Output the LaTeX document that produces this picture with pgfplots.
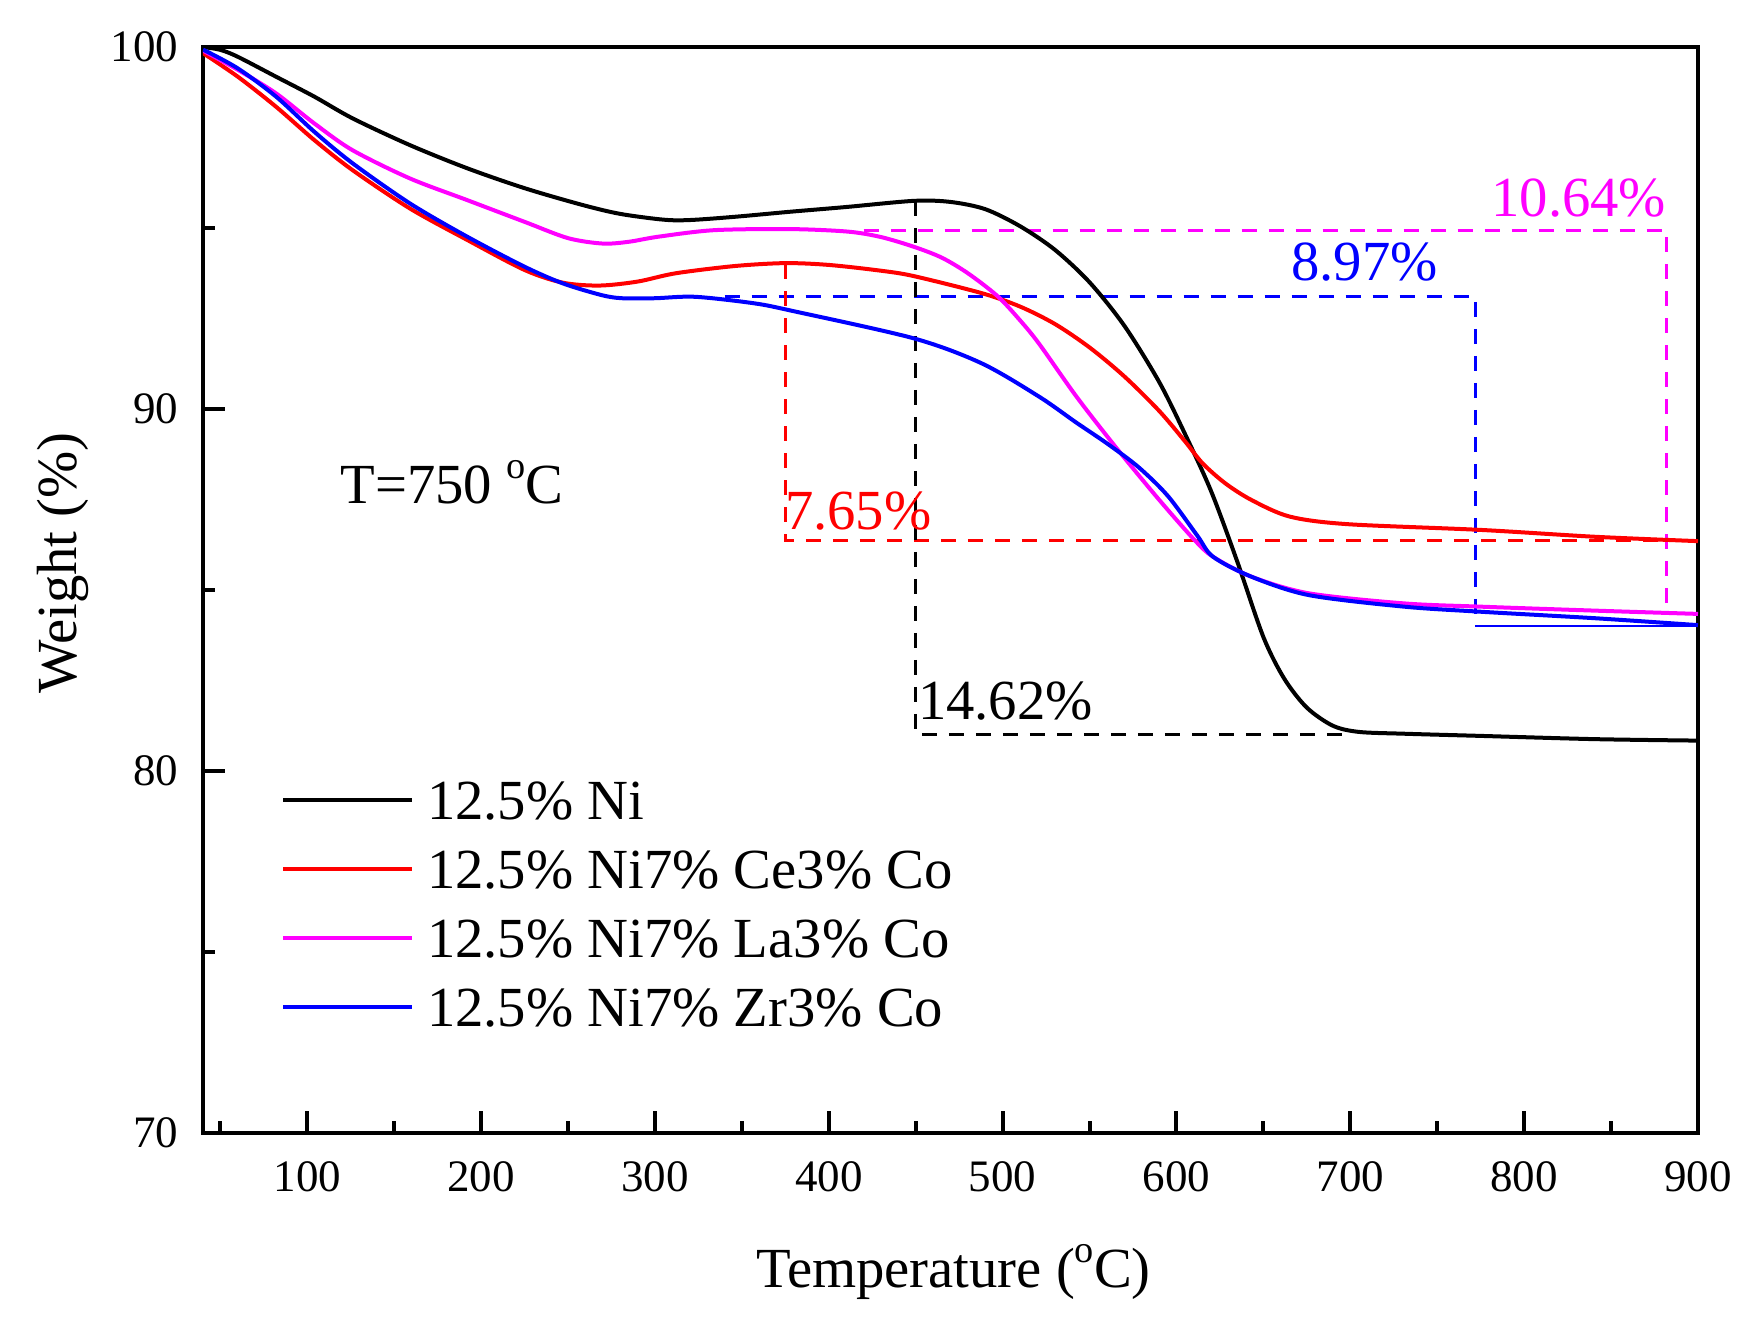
\documentclass[border=0pt]{standalone}
\usepackage{fontspec}
\setmainfont{Liberation Serif}
\usepackage{pgfplots}
\pgfplotsset{compat=1.18}

\definecolor{cmag}{RGB}{255,0,255}
\definecolor{cred}{RGB}{255,0,0}
\definecolor{cblue}{RGB}{0,0,255}

\newcommand{\lab}{\fontsize{17}{20}\selectfont}
\newcommand{\tck}{\fontsize{13.5}{16}\selectfont}
\newcommand{\degsup}{\raisebox{7.5pt}{\fontsize{11.5}{12}\selectfont o}}

\begin{document}
\begin{tikzpicture}
\begin{axis}[
  name=ax,
  scale only axis, width=448.5pt, height=325.8pt,
  xmin=40, xmax=900, ymin=70, ymax=100,
  xtick={100,200,...,900}, ytick={70,80,90,100},
  minor xtick={50,150,...,850}, minor ytick={75,85,95},
  tick align=inside, xtick pos=left, ytick pos=left,
  major tick length=6.5pt, minor tick length=3.5pt,
  major tick style={black, line width=1.2pt},
  minor tick style={black, line width=1.2pt},
  axis line style={line width=1.3pt},
  /pgf/number format/assume math mode=true,
  ticklabel style={font=\tck, inner sep=0pt},
  xticklabel style={anchor=base, yshift=-17.6pt},
  yticklabel style={anchor=east, xshift=-7.2pt},
  xlabel={Temperature (\degsup C)},
  ylabel={Weight (\%)},
  label style={font=\lab, inner sep=0pt},
  xlabel style={at={(axis description cs:0.502,-0.1418)}, anchor=base},
  ylabel style={at={(axis description cs:-0.0843,0.5249)}, anchor=base},
  legend style={draw=none, fill=none, at={(0.0522,0.3349)}, anchor=north west,
    inner sep=0pt, outer sep=0pt, font=\lab, row sep=2.3pt, column sep=3.9pt,
    nodes={inner sep=0pt, text height=15pt, text depth=3.4pt}},
  legend cell align=left,
  legend image code/.code={\draw[#1] (0pt,0pt) -- (38.7pt,0pt);},
]
% annotation boxes
\addplot[cmag, line width=1pt, dash pattern=on 4.5pt off 3.6pt, forget plot]
  coordinates {(420,94.94) (882,94.94) (882,84.59)};
\addplot[cblue, line width=1pt, dash pattern=on 4.5pt off 3.6pt, forget plot]
  coordinates {(340,93.10) (772,93.10) (772,84.05)};
\addplot[cblue, line width=0.6pt, forget plot]
  coordinates {(772,84.0) (900,84.0)};
\addplot[cred, line width=1pt, dash pattern=on 4.5pt off 3.6pt, forget plot]
  coordinates {(375,94.0) (375,86.36) (900,86.36)};
\addplot[black, line width=1pt, dash pattern=on 4.5pt off 3.6pt, forget plot]
  coordinates {(450,95.75) (450,81.0) (698,81.0)};

% curves
\addplot[black, line width=1.2pt, smooth] coordinates {
(40,100.0) (50,99.92) (60,99.73) (82,99.18) (104,98.63) (126,98.03) (159,97.29)
(192,96.65) (225,96.10) (258,95.64) (280,95.39) (305,95.23) (320,95.22) (346,95.31)
(378,95.45) (410,95.58) (449,95.75) (470,95.72) (490,95.52) (510,95.05) (530,94.40)
(550,93.50) (570,92.30) (590,90.75) (605,89.30) (620,87.72) (635,85.78) (650,83.70)
(662,82.55) (675,81.75) (690,81.25) (705,81.08) (731,81.03) (775,80.97) (841,80.88)
(900,80.84)};
\addplot[cred, line width=1.2pt, smooth] coordinates {
(40,99.83) (60,99.18) (82,98.35) (104,97.43) (126,96.60) (159,95.54) (192,94.67)
(225,93.84) (247,93.49) (268,93.41) (290,93.52) (312,93.75) (346,93.95) (375,94.03)
(400,93.98) (430,93.82) (449,93.67) (488,93.20) (510,92.83) (530,92.35) (550,91.70)
(570,90.90) (590,89.95) (605,89.10) (615,88.50) (628,87.95) (643,87.49) (665,87.03)
(698,86.82) (775,86.66) (841,86.47) (900,86.35)};
\addplot[cmag, line width=1.2pt, smooth] coordinates {
(40,99.90) (60,99.37) (82,98.72) (104,97.89) (126,97.15) (159,96.37) (192,95.77)
(225,95.17) (250,94.72) (270,94.57) (285,94.62) (302,94.76) (334,94.94) (378,94.97)
(411,94.90) (430,94.75) (449,94.48) (465,94.18) (480,93.75) (497,93.12) (510,92.45)
(521,91.80) (542.5,90.34) (565,88.95) (589,87.55) (610,86.40) (621,85.92) (643,85.37)
(676,84.91) (731,84.63) (775,84.54) (841,84.43) (900,84.34)};
\addplot[cblue, line width=1.2pt, smooth] coordinates {
(40,99.93) (60,99.41) (82,98.63) (104,97.66) (126,96.79) (159,95.68) (192,94.76)
(225,93.93) (247,93.47) (269,93.15) (281,93.06) (300,93.06) (323,93.10) (357,92.92)
(380,92.70) (449,91.95) (488,91.26) (521,90.34) (542.5,89.62) (560,89.05) (578,88.40)
(595,87.60) (612,86.50) (621,85.92) (643,85.37) (676,84.86) (731,84.54) (775,84.40)
(841,84.22) (900,84.03)};

\legend{12.5\% Ni, 12.5\% Ni7\% Ce3\% Co, 12.5\% Ni7\% La3\% Co, 12.5\% Ni7\% Zr3\% Co}

% labels
\node[anchor=base east, text=cmag, font=\lab, inner sep=0pt] at (axis cs:882,95.31) {10.64\%};
\node[anchor=base east, text=cblue, font=\lab, inner sep=0pt] at (axis cs:750.6,93.56) {8.97\%};
\node[anchor=base west, text=cred, font=\lab, inner sep=0pt] at (axis cs:374.5,86.66) {7.65\%};
\node[anchor=base west, text=black, font=\lab, inner sep=0pt] at (axis cs:451,81.41) {14.62\%};
\node[anchor=base west, text=black, font=\lab, inner sep=0pt] at (axis cs:118.7,87.4) {T=750 \degsup C};
\end{axis}
\pgfresetboundingbox
\path[use as bounding box] ([xshift=-60.9pt,yshift=-57pt]ax.south west) rectangle ([xshift=18.3pt,yshift=14.1pt]ax.north east);
\end{tikzpicture}
\end{document}
